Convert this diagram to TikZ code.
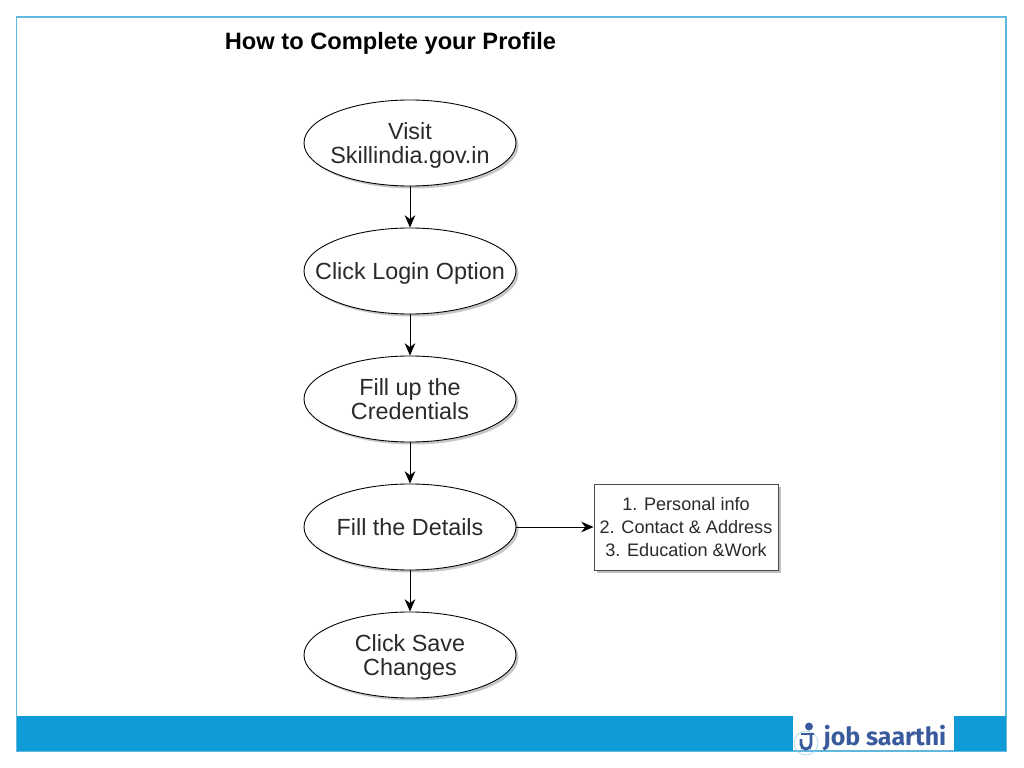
\documentclass[tikz,border=0pt]{standalone}
\usepackage{xcolor}
\usepackage{fontspec}
\setmainfont{Liberation Sans}
\newfontfamily\logofont{Fira Sans}
\usetikzlibrary{shapes.geometric, positioning, shadows, arrows.meta}

\definecolor{barblue}{HTML}{0F9BD7}
\definecolor{frameblue}{HTML}{62B8DC}
\definecolor{logoblue}{HTML}{3A5A9E}
\definecolor{textgrey}{HTML}{2A2A2A}

\begin{document}
\begin{tikzpicture}[-,auto,node distance=2.56cm,thick,
    main node/.style={ellipse,draw,fill=white,line width=0.5pt,minimum width=4.24cm,minimum height=1.72cm,
                      inner xsep=-0.6cm,inner ysep=-0.1cm,text depth=0pt,align=center,text=textgrey,
                      font=\fontsize{13.3}{13.7}\selectfont,drop shadow={opacity=0.45,shadow xshift=0.05cm,shadow yshift=-0.05cm}},
    list node/.style={rectangle,draw=black!70,fill=white,line width=0.5pt,minimum width=3.68cm,minimum height=1.72cm,
                      inner sep=0pt,align=center,text=textgrey,
                      font=\fontsize{10.3}{13}\selectfont,drop shadow={opacity=0.5,shadow xshift=0.06cm,shadow yshift=-0.06cm}},
    link/.style={-{Stealth[length=7pt,width=6pt]},line width=0.45pt,black}]

  \useasboundingbox (0,0) rectangle (20.48,-15.36);

  % frame and bottom bar
  \draw[frameblue,line width=0.7pt] (0.33,-0.34) rectangle (20.12,-15.02);
  \fill[barblue] (0.33,-14.32) rectangle (15.86,-15.02);
  \fill[barblue] (19.08,-14.32) rectangle (20.12,-15.02);

  \node (title) at (7.81,-0.86) {\fontsize{13.46}{16}\selectfont\bfseries How to Complete your Profile};

  \node[main node] (1) at (8.2,-2.86) {Visit\\Skillindia.gov.in};
  \node[main node] (2) [below of=1] {Click Login Option};
  \node[main node] (3) [below of=2] {Fill up the\\Credentials};
  \node[main node] (4) [below of=3] {Fill the Details};
  \node[main node] (5) [below of=4] {Click Save\\Changes};
  \node[list node] (6) [right of=4,node distance=5.52cm] {1. Personal info\\2. Contact \& Address\\3. Education \&Work};

  \path[link]
    (1) edge (2)
    (2) edge (3)
    (3) edge (4)
    (4) edge (5)
        edge (6);

  % logo
  \node[text=logoblue,inner sep=0pt] (logo) at (17.7,-14.76) {\logofont\fontsize{14.2}{16}\selectfont\bfseries job saarthi};
  \draw[frameblue!70,line width=0.3pt] (16.12,-14.86) circle (0.24);
  \fill[logoblue] (16.18,-14.53) circle (0.08);
  \draw[logoblue,line width=1.1pt] (16.02,-14.68) -- (16.28,-14.68);
  \draw[logoblue,line width=1.7pt] (16.22,-14.68) -- (16.22,-14.88) arc (0:-180:0.1) -- (16.02,-14.78);
\end{tikzpicture}
\end{document}
